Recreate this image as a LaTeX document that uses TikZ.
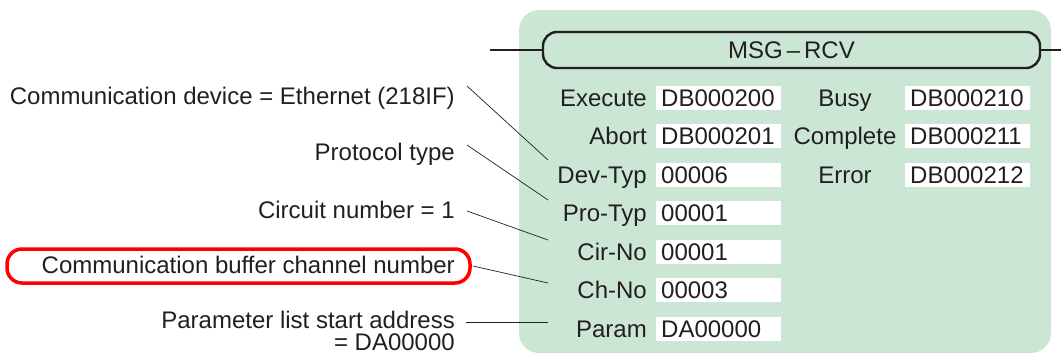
\documentclass[tikz,border=0pt]{standalone}
\usepackage{fontspec}
\setmainfont{Liberation Sans}
\definecolor{panel}{RGB}{204,230,213}
\definecolor{txt}{RGB}{35,31,32}
\begin{document}
\begin{tikzpicture}[x=1pt,y=-1pt,
  every node/.style={font=\fontsize{24}{28}\selectfont,text=txt,inner sep=0pt,text height=17pt,text depth=0pt},
  lbl/.style={anchor=east},
  rlbl/.style={anchor=center},
  val/.style={fill=white,minimum width=125pt,minimum height=24pt,anchor=west,text width=115pt,align=left,inner xsep=5pt,inner ysep=0pt},
  conn/.style={draw=txt,line width=0.7pt},
  note/.style={anchor=east,align=right}]
\useasboundingbox (0,0) rectangle (1061,356);
\fill[panel,rounded corners=20pt] (519,10) rectangle (1051,353);
\draw[line width=2.4pt,txt] (490,50) -- (543,50);
\draw[line width=2.4pt,txt] (1040,50) -- (1061,50);
\node[draw=txt,line width=2.4pt,rounded corners=14pt,minimum width=497pt,minimum height=36pt] (title) at (791.5,50) {MSG\,–\,RCV};
% left column
\foreach \n/\t/\v/\y in {ex/Execute/DB000200/98, ab/Abort/DB000201/136, dt/Dev-Typ/00006/175, pt/Pro-Typ/00001/213, cn/Cir-No/00001/252, ch/Ch-No/00003/290, pa/Param/DA00000/329}{
  \node[lbl] (l\n) at (647,\y) {\t};
  \node[val] (v\n) at (656,\y) {\v};
}
\foreach \n/\t/\v/\y in {bu/Busy/DB000210/98, co/Complete/DB000211/136, er/Error/DB000212/175}{
  \node[rlbl] (l\n) at (845,\y) {\t};
  \node[val] (v\n) at (905,\y) {\v};
}
% notes
\node[note] (n1) at (455,96) {Communication device = Ethernet (218IF)};
\node[note] (n2) at (455,152) {Protocol type};
\node[note] (n3) at (455,210) {Circuit number = 1};
\node[note] (n4) at (455,265) {Communication buffer channel number};
\node[note] (n5) at (455,320) {Parameter list start address};
\node[note] (n6) at (455,342) {= DA00000};
\draw[red,line width=3.5pt,rounded corners=15pt] (7,249) rectangle (470,283);
\coordinate (a1) at (548,160);
\coordinate (a2) at (548,200);
\coordinate (a3) at (548,240);
\coordinate (a4) at (548,283);
\coordinate (a5) at (548,322);
\draw[conn] (467,86) -- (a1);
\draw[conn] (467,145) -- (a2);
\draw[conn] (467,211) -- (a3);
\draw[conn] (473,266) -- (a4);
\draw[conn] (466,322) -- (a5);
\end{tikzpicture}
\end{document}
